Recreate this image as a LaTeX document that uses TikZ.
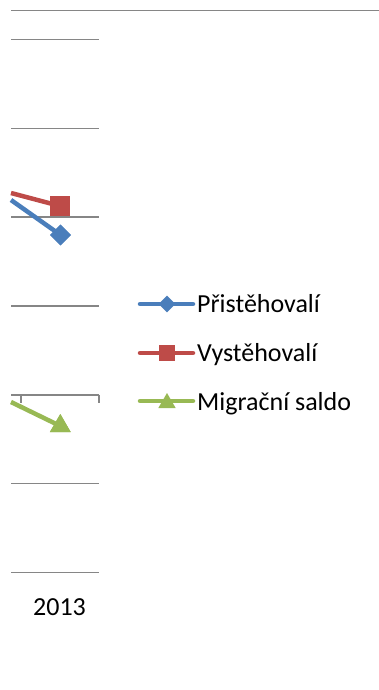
\documentclass[tikz,border=0pt]{standalone}
\usepackage{fontspec}
\setmainfont{Carlito}
\usetikzlibrary{shapes.geometric}
\definecolor{cblue}{HTML}{4A7EBB}
\definecolor{cred}{HTML}{BE4B48}
\definecolor{cgreen}{HTML}{98B954}
\definecolor{gridc}{HTML}{868686}
\begin{document}
\begin{tikzpicture}[x=1pt,y=-1pt,
  grid/.style={draw=gridc,line width=1.6pt},
  serie/.style={line width=4.5pt},
  dmark/.style={diamond,fill=cblue,inner sep=0pt,minimum width=#1,minimum height=#1},
  smark/.style={rectangle,fill=cred,inner sep=0pt,minimum size=#1},
  tmark/.style={regular polygon,regular polygon sides=3,fill=cgreen,inner sep=0pt,minimum size=#1},
  lbl/.style={font=\fontsize{26}{30}\selectfont,anchor=base west,inner sep=0pt}]
\useasboundingbox (0,0) rectangle (379,690);
% top border
\coordinate (tl) at (11,10.3);
\coordinate (tr) at (379,10.3);
\draw[draw=gridc,line width=1pt] (tl) -- (tr);
% gridlines
\foreach \i/\y in {1/39.7,2/128.5,3/217.2,4/306,5/394.8,6/483.5,7/572.3}{
  \coordinate (gl\i) at (11,\y);
  \coordinate (gr\i) at (99,\y);
  \draw[grid] (gl\i) -- (gr\i);
}
% ticks
\coordinate (t1a) at (20.7,394.8); \coordinate (t1b) at (20.7,403);
\coordinate (t2a) at (99,394.8); \coordinate (t2b) at (99,403);
\draw[grid] (t1a) -- (t1b);
\draw[grid] (t2a) -- (t2b);
% series
\coordinate (rs) at (11,193);
\coordinate (bs) at (11,200);
\coordinate (gs) at (11,402);
\node[smark=20pt] (rm) at (60,206) {};
\node[dmark=21pt] (bm) at (60.5,235) {};
\node[tmark=24pt] (gm) at (60.3,426) {};
\draw[serie,cred] (rs) -- (rm.center);
\draw[serie,cblue] (bs) -- (bm.center);
\draw[serie,cgreen] (gs) -- (gm.center);
\node[smark=20pt] at (60,206) {};
\node[dmark=21pt] at (60.5,235) {};
\node[tmark=24pt] at (60.3,426) {};
% x label
\node[font=\fontsize{26}{30}\selectfont,anchor=base,inner sep=0pt] (year) at (59.5,615) {2013};
% legend
\coordinate (l1a) at (140,304); \coordinate (l1b) at (193,304);
\coordinate (l2a) at (140,353); \coordinate (l2b) at (193,353);
\coordinate (l3a) at (140,401); \coordinate (l3b) at (193,401);
\draw[serie,cblue,line cap=round] (l1a) -- (l1b);
\draw[serie,cred,line cap=round] (l2a) -- (l2b);
\draw[serie,cgreen,line cap=round] (l3a) -- (l3b);
\node[dmark=17pt] (lm1) at (167,304) {};
\node[smark=16pt] (lm2) at (167,353) {};
\node[tmark=20pt] (lm3) at (167,403) {};
\node[lbl] (n1) at (197,312) {Přistěhovalí};
\node[lbl] (n2) at (197,361) {Vystěhovalí};
\node[lbl] (n3) at (197,410) {Migrační saldo};
\end{tikzpicture}
\end{document}
